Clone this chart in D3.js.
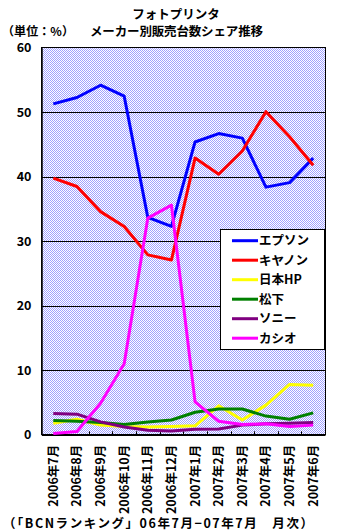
<!DOCTYPE html>
<html><head><meta charset="utf-8">
<script src="https://cdn.jsdelivr.net/npm/d3@7"></script>
<style>
html,body{margin:0;padding:0;background:#fff;}
text{font-family:"Noto Sans CJK JP","Noto Sans",sans-serif;font-weight:bold;fill:#000;}
</style></head>
<body><svg id="c" width="337" height="532"></svg>
<script>
const categories = ["2006年7月","2006年8月","2006年9月","2006年10月","2006年11月","2006年12月","2007年1月","2007年2月","2007年3月","2007年4月","2007年5月","2007年6月"];
const seriesNames = ["エプソン","キヤノン","日本HP","松下","ソニー","カシオ"];
const seriesColors = ["#0000ff","#ff0000","#ffff00","#008000","#800080","#ff00ff"];
const epson = [51.3,52.3,54.2,52.5,33.7,32.3,45.4,46.7,46.0,38.4,39.1,42.9];
const canon = [39.8,38.5,34.6,32.3,27.9,27.1,42.9,40.4,44.0,50.1,46.2,41.8];
const hp    = [1.8,2.4,1.5,1.3,1.2,1.3,1.4,4.5,2.3,4.6,7.8,7.7];
const matsushita = [2.2,2.1,1.9,1.6,2.0,2.3,3.5,4.0,4.0,2.9,2.4,3.4];
const sony  = [3.3,3.2,2.0,1.2,0.7,0.6,0.85,0.9,1.5,1.7,1.8,1.9];
const casio = [0.2,0.5,4.9,11.0,33.6,35.6,5.1,2.1,1.6,1.7,1.3,1.5];
const yTicks = [0,10,20,30,40,50,60];
const seriesData = [epson,canon,hp,matsushita,sony,casio];

const svg = d3.select("#c");
const L=41.5, R=325, T=47.8, B=434.8;
const x = d3.scaleBand().domain(categories).range([L,R]);
const y = d3.scaleLinear().domain([0,60]).range([B,T]);

const defs = svg.append("defs");
const pat = defs.append("pattern").attr("id","bg").attr("patternUnits","userSpaceOnUse")
  .attr("width",2).attr("height",2);
pat.append("rect").attr("width",2).attr("height",2).attr("fill","#ffffff");
pat.append("rect").attr("x",0).attr("y",0).attr("width",1).attr("height",1).attr("fill","#a0a0ff");
pat.append("rect").attr("x",1).attr("y",1).attr("width",1).attr("height",1).attr("fill","#a0a0ff");

svg.append("rect").attr("x",L).attr("y",T).attr("width",R-L).attr("height",B-T)
  .attr("fill","url(#bg)").attr("stroke","#000").attr("stroke-width",1).attr("shape-rendering","crispEdges");

// gridlines
svg.append("g").selectAll("line").data(yTicks.filter(d=>d>0&&d<60)).join("line")
  .attr("x1",L).attr("x2",R).attr("y1",d=>Math.round(y(d))+0.5).attr("y2",d=>Math.round(y(d))+0.5)
  .attr("stroke","#000").attr("stroke-width",1);

// y axis
const yAxis = svg.append("g").attr("transform",`translate(${L},0)`)
  .call(d3.axisLeft(y).tickValues(yTicks).tickSize(0).tickPadding(10));
yAxis.select(".domain").attr("stroke","#000").attr("stroke-width",1.5);
yAxis.selectAll("text").style("font-size","12.5px").attr("fill","#000");

// x axis
const xAxis = svg.append("g").attr("transform",`translate(0,${B})`)
  .call(d3.axisBottom(x).tickSize(0).tickPadding(0));
xAxis.select(".domain").attr("stroke","#000").attr("stroke-width",1.5);
xAxis.selectAll("text").remove();
// inside tick marks at band boundaries
svg.append("g").selectAll("line").data(categories.slice(1)).join("line")
  .attr("x1",d=>Math.round(x(d))+0.5).attr("x2",d=>Math.round(x(d))+0.5)
  .attr("y1",B).attr("y2",B-3.5).attr("stroke","#000").attr("stroke-width",1);
// x labels rotated
svg.append("g").selectAll("text").data(categories).join("text")
  .attr("transform",d=>`translate(${x(d)+x.bandwidth()/2+4.5},${B+10}) rotate(-90)`)
  .attr("text-anchor","end").style("font-size","12.5px").text(d=>d);

// lines
const line = d3.line().x((d,i)=>x(categories[i])+x.bandwidth()/2).y(d=>y(d));
svg.append("g").selectAll("path").data(seriesData).join("path")
  .attr("d",d=>line(d)).attr("fill","none")
  .attr("stroke",(d,i)=>seriesColors[i]).attr("stroke-width",3).attr("stroke-linejoin","round");

// legend
const lg = svg.append("g");
lg.append("rect").attr("x",220.5).attr("y",229.5).attr("width",104).attr("height",120)
  .attr("fill","#fff").attr("stroke","#000").attr("stroke-width",1);
seriesNames.forEach((n,i)=>{
  const yy = 240.7 + i*19.5;
  lg.append("line").attr("x1",232).attr("x2",258).attr("y1",yy).attr("y2",yy)
    .attr("stroke",seriesColors[i]).attr("stroke-width",3);
  lg.append("text").attr("x",259).attr("y",yy+4.5).style("font-size","12.5px").text(n);
});

// titles
svg.append("text").attr("x",176).attr("y",18.5).attr("text-anchor","middle").style("font-size","12.5px").text("フォトプリンタ");
svg.append("text").attr("x",90).attr("y",36).attr("textLength",173).attr("lengthAdjust","spacing").style("font-size","12.5px").text("メーカー別販売台数シェア推移");
svg.append("text").attr("x",2).attr("y",35.5).attr("textLength",72).attr("lengthAdjust","spacing").style("font-size","12px").text("（単位：%）");
svg.append("text").attr("x",3).attr("y",528).attr("textLength",310).attr("lengthAdjust","spacing").style("font-size","12.5px").text("（「BCNランキング」06年7月−07年7月　月次）");
</script></body></html>
